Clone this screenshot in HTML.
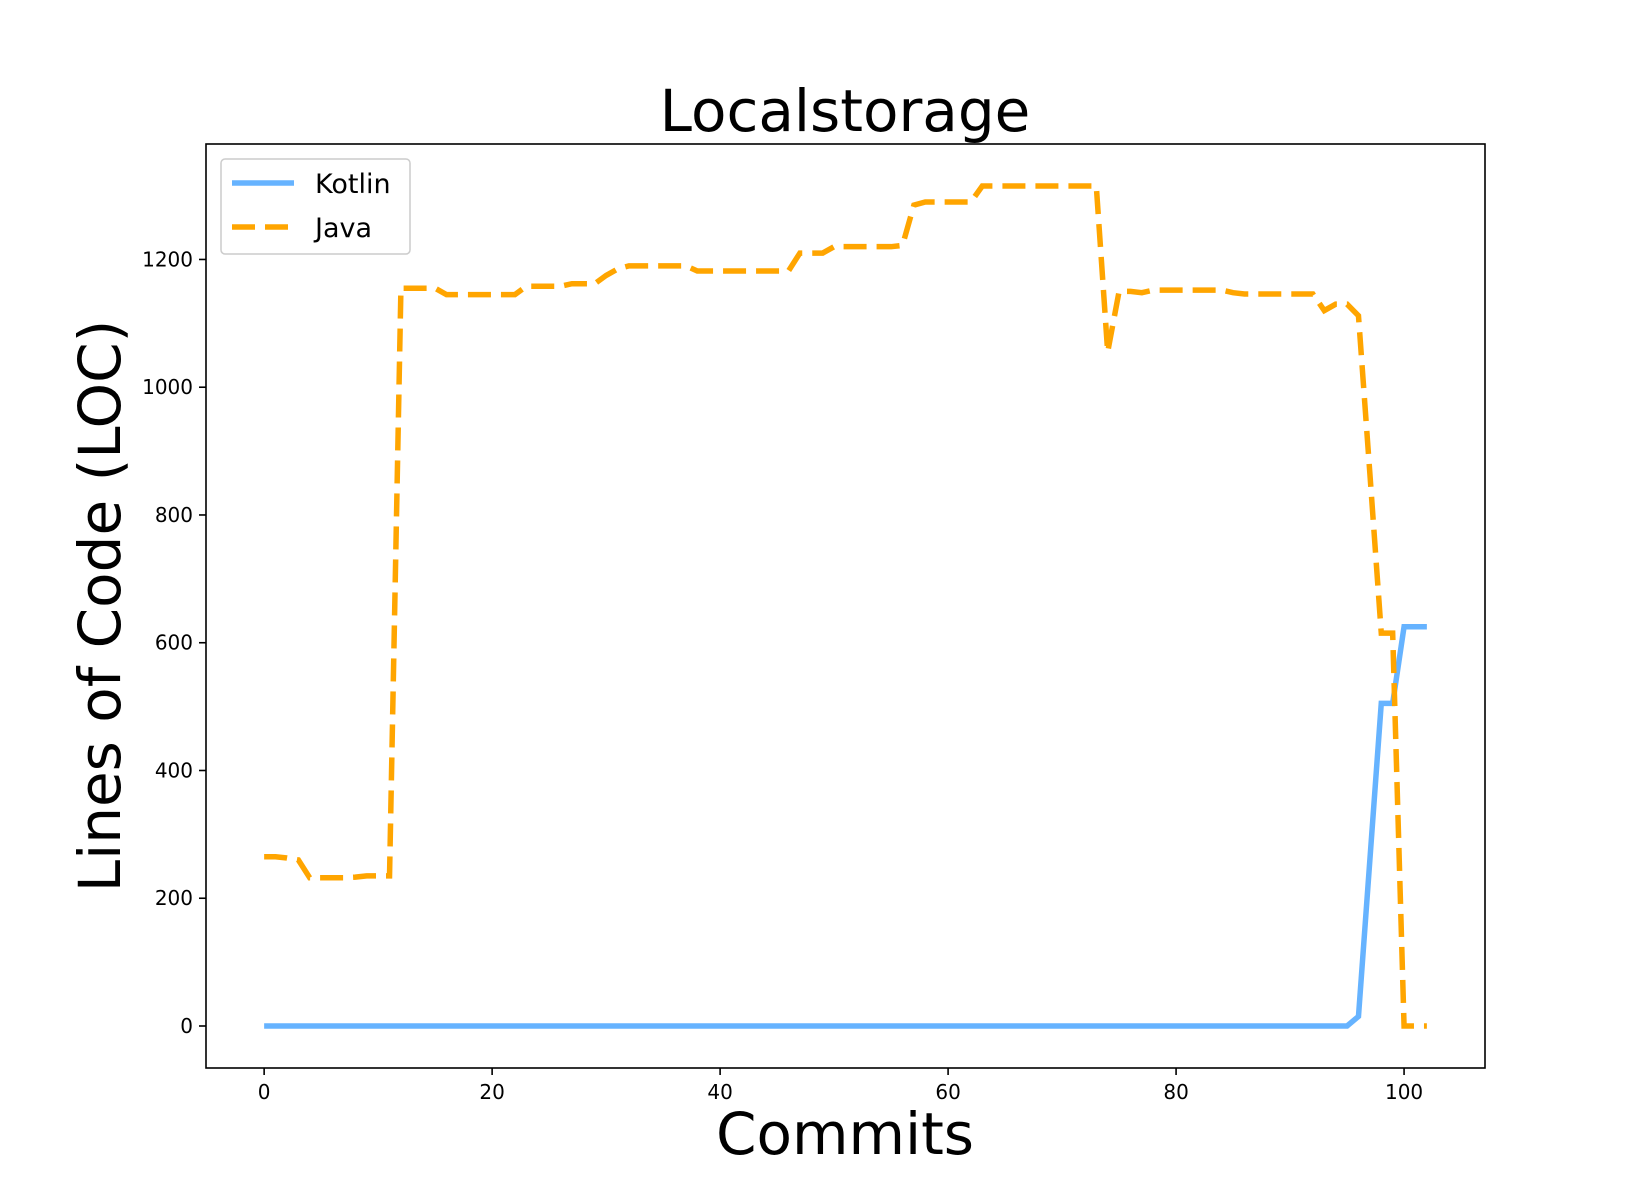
<!DOCTYPE html>
<html><head><meta charset="utf-8"><style>
html,body{margin:0;padding:0;background:#fff}
svg{display:block;font-family:"DejaVu Sans","Liberation Sans",sans-serif}
</style></head><body>
<svg id="chart" width="1650" height="1200" viewBox="0 0 1650 1200">
<rect width="1650" height="1200" fill="#fff"/>
<text x="845" y="131" font-size="58" text-anchor="middle">Localstorage</text>
<text x="845" y="1154" font-size="58" text-anchor="middle">Commits</text>
<text transform="translate(120,606) rotate(-90)" font-size="58" text-anchor="middle">Lines of Code (LOC)</text>
<g id="ticks"></g>
<g id="series"></g>
<rect x="206" y="144" width="1279" height="924" fill="none" stroke="#000" stroke-width="1.6"/>
<g>
<rect x="221" y="159" width="189" height="95" rx="4" fill="#fff" fill-opacity="0.8" stroke="#ccc" stroke-width="1.5"/>
<g>
<line x1="232" y1="183" x2="294" y2="183" stroke="#66b3ff" stroke-width="5.5"/>
<text x="315" y="193" font-size="27">Kotlin</text></g>
<g>
<line x1="232" y1="227" x2="294" y2="227" stroke="#ffa500" stroke-width="5.5" stroke-dasharray="23 10"/>
<text x="315" y="237" font-size="27">Java</text></g>
</g>
</svg>
<script>
const xTicks = [0,20,40,60,80,100];
const yTicks = [0,200,400,600,800,1000,1200];
const kotlin = [0,0,0,0,0,0,0,0,0,0,0,0,0,0,0,0,0,0,0,0,0,0,0,0,0,0,0,0,0,0,0,0,0,0,0,0,0,0,0,0,0,0,0,0,0,0,0,0,0,0,0,0,0,0,0,0,0,0,0,0,0,0,0,0,0,0,0,0,0,0,0,0,0,0,0,0,0,0,0,0,0,0,0,0,0,0,0,0,0,0,0,0,0,0,0,0,15,260,505,505,625,625,625];
const java = [265,265,263,260,232,232,232,232,233,235,235,235,1155,1155,1155,1155,1145,1145,1145,1145,1145,1145,1145,1158,1158,1158,1158,1162,1162,1162,1175,1185,1190,1190,1190,1190,1190,1190,1182,1182,1182,1182,1182,1182,1182,1182,1182,1210,1210,1210,1220,1220,1220,1220,1220,1220,1222,1285,1290,1290,1290,1290,1290,1315,1315,1315,1315,1315,1315,1315,1315,1315,1315,1315,1055,1150,1150,1148,1152,1152,1152,1152,1152,1152,1152,1148,1146,1146,1146,1146,1146,1146,1146,1120,1130,1130,1112,865,615,615,0,0,0];
const NS='http://www.w3.org/2000/svg';
const L=206,R=1485,T=144,B=1068;
const n=Math.max(kotlin.length,java.length)-1;
const yMax=Math.max(...kotlin,...java,1), yMin=Math.min(...kotlin,...java,0);
const xm=n*0.05, ym=(yMax-yMin)*0.05;
const sx=v=>L+(v+xm)/(n+2*xm)*(R-L);
const sy=v=>B-(v-yMin+ym)/(yMax-yMin+2*ym)*(B-T);
const tg=document.getElementById('ticks');
xTicks.forEach(t=>{
 const l=document.createElementNS(NS,'line');
 l.setAttribute('x1',sx(t));l.setAttribute('x2',sx(t));l.setAttribute('y1',B);l.setAttribute('y2',B+7);l.setAttribute('stroke','#000');l.setAttribute('stroke-width','1.6');
 
 
 tg.appendChild(l);
 const tx=document.createElementNS(NS,'text');
 tx.setAttribute('x',sx(t));tx.setAttribute('y',B+31);tx.setAttribute('font-size','20');tx.setAttribute('text-anchor','middle');tx.textContent=t;
 
 
 tg.appendChild(tx);
});
yTicks.forEach(t=>{
 const l=document.createElementNS(NS,'line');
 l.setAttribute('x1',L-7);l.setAttribute('x2',L);l.setAttribute('y1',sy(t));l.setAttribute('y2',sy(t));l.setAttribute('stroke','#000');l.setAttribute('stroke-width','1.6');
 
 
 tg.appendChild(l);
 const tx=document.createElementNS(NS,'text');
 tx.setAttribute('x',L-13);tx.setAttribute('y',sy(t)+7);tx.setAttribute('font-size','20');tx.setAttribute('text-anchor','end');tx.textContent=t;
 
 
 tg.appendChild(tx);
});
const sg=document.getElementById('series');
function draw(arr,color,dash,name){
 const p=document.createElementNS(NS,'polyline');
 p.setAttribute('points',arr.map((v,i)=>sx(i)+','+sy(v)).join(' '));
 p.setAttribute('fill','none');p.setAttribute('stroke',color);p.setAttribute('stroke-width','5.5');
 p.setAttribute('stroke-linejoin','miter');
 if(dash)p.setAttribute('stroke-dasharray',dash);
 
 
 sg.appendChild(p);
}
draw(kotlin,'#66b3ff',null,'kotlin-line');
draw(java,'#ffa500','23 10','java-line');
</script>
</body></html>
